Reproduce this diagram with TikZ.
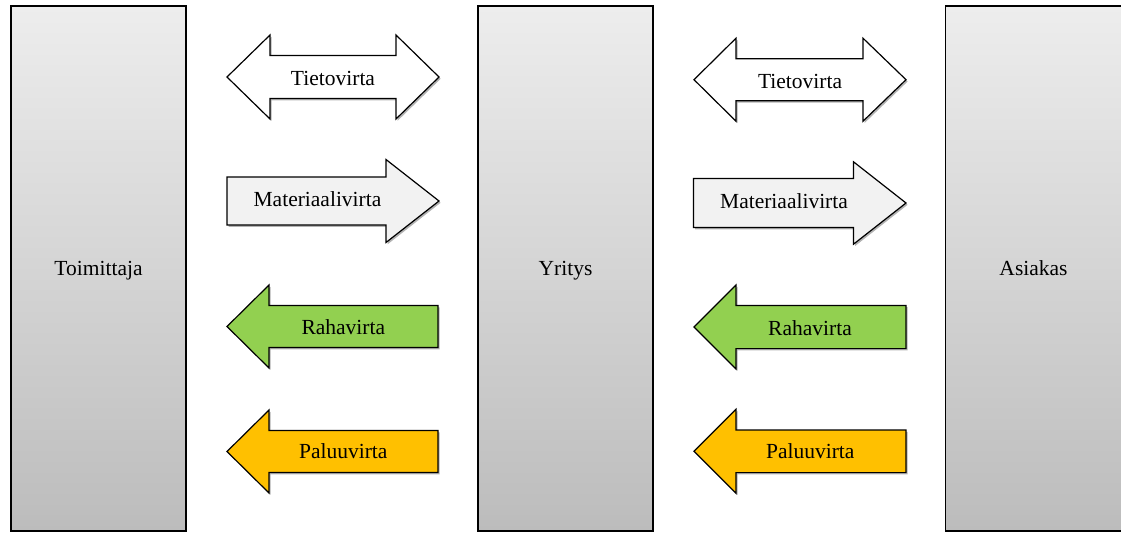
\documentclass[tikz,border=0pt]{standalone}
\usepackage{fontspec}
\setmainfont{Liberation Serif}
\usetikzlibrary{shadows}

% Block arrow outlines (x in pt, y downwards)
% right-pointing: style, tail x, head base x, tip x, centre y, shaft half height, head half height
\newcommand{\FlowRight}[7]{%
  \path[#1] (#2,#5-#6) -- (#3,#5-#6) -- (#3,#5-#7) -- (#4,#5) -- (#3,#5+#7)
    -- (#3,#5+#6) -- (#2,#5+#6) -- cycle;}
% left-pointing: style, tip x, head base x, tail x, centre y, shaft half height, head half height
\newcommand{\FlowLeft}[7]{%
  \path[#1] (#2,#5) -- (#3,#5-#7) -- (#3,#5-#6) -- (#4,#5-#6) -- (#4,#5+#6)
    -- (#3,#5+#6) -- (#3,#5+#7) -- cycle;}
% two-headed: style, left tip, left base, right base, right tip, centre y, shaft half, head half
\newcommand{\FlowBoth}[8]{%
  \path[#1] (#2,#6) -- (#3,#6-#8) -- (#3,#6-#7) -- (#4,#6-#7) -- (#4,#6-#8)
    -- (#5,#6) -- (#4,#6+#8) -- (#4,#6+#7) -- (#3,#6+#7) -- (#3,#6+#8) -- cycle;}

\definecolor{barTop}{HTML}{EDEDED}
\definecolor{barBottom}{HTML}{BCBCBC}
\definecolor{infoFill}{HTML}{FFFFFF}
\definecolor{matFill}{HTML}{F2F2F2}
\definecolor{moneyFill}{HTML}{92D050}
\definecolor{returnFill}{HTML}{FFC000}

\tikzset{
  party/.style={draw=black, line width=1.2pt, minimum width=175pt, minimum height=525pt,
    top color=barTop, bottom color=barBottom, inner sep=0pt,
    text height=14pt, text depth=0pt,
    font=\fontsize{21.5}{26}\selectfont},
  flowshape/.style={draw=black, line width=1.2pt, line join=miter,
    drop shadow={shadow xshift=1.6pt, shadow yshift=-1.8pt, opacity=0.3, fill=black}},
  info/.style={flowshape, fill=infoFill},
  material/.style={flowshape, fill=matFill},
  money/.style={flowshape, fill=moneyFill},
  goodsback/.style={flowshape, fill=returnFill},
  flowtext/.style={inner sep=0pt, text height=14.5pt, text depth=0pt,
    font=\fontsize{21.5}{26}\selectfont},
}

\begin{document}
\begin{tikzpicture}[x=1pt, y=-1pt]
\useasboundingbox (0,0) rectangle (1121,533);

% the three parties
\node[party] (supplier) at (98.5,268.5) {Toimittaja};
\node[party] (company)  at (565.5,268.5) {Yritys};
\node[party, minimum width=179pt] (customer) at (1035,268.5) {\hspace*{-3pt}Asiakas};

% flows between supplier and company
\FlowBoth{info}{227}{270}{396}{439}{77}{21.5}{42}
\node[flowtext] (infoL) at (333,78.5) {Tietovirta};

\FlowRight{material}{227}{386}{439}{201}{24}{41.5}
\node[flowtext] (matL) at (317.5,199) {Materiaalivirta};

\FlowLeft{money}{227}{269}{438}{326.5}{21}{41.5}
\node[flowtext] (moneyL) at (343.3,327) {Rahavirta};

\FlowLeft{goodsback}{227}{269}{438}{451.5}{21}{41.5}
\node[flowtext] (backL) at (343.3,451) {Paluuvirta};

% flows between company and customer
\FlowBoth{info}{694}{736}{863}{906}{79.7}{21}{41.5}
\node[flowtext] (infoR) at (800,81) {Tietovirta};

\FlowRight{material}{693.5}{853.5}{906}{203}{24.5}{41.2}
\node[flowtext] (matR) at (784,201) {Materiaalivirta};

\FlowLeft{money}{694}{736}{906}{327}{21.6}{42}
\node[flowtext] (moneyR) at (810,328) {Rahavirta};

\FlowLeft{goodsback}{694}{736}{906}{451.3}{21.3}{42}
\node[flowtext] (backR) at (810.3,451) {Paluuvirta};
\end{tikzpicture}
\end{document}
